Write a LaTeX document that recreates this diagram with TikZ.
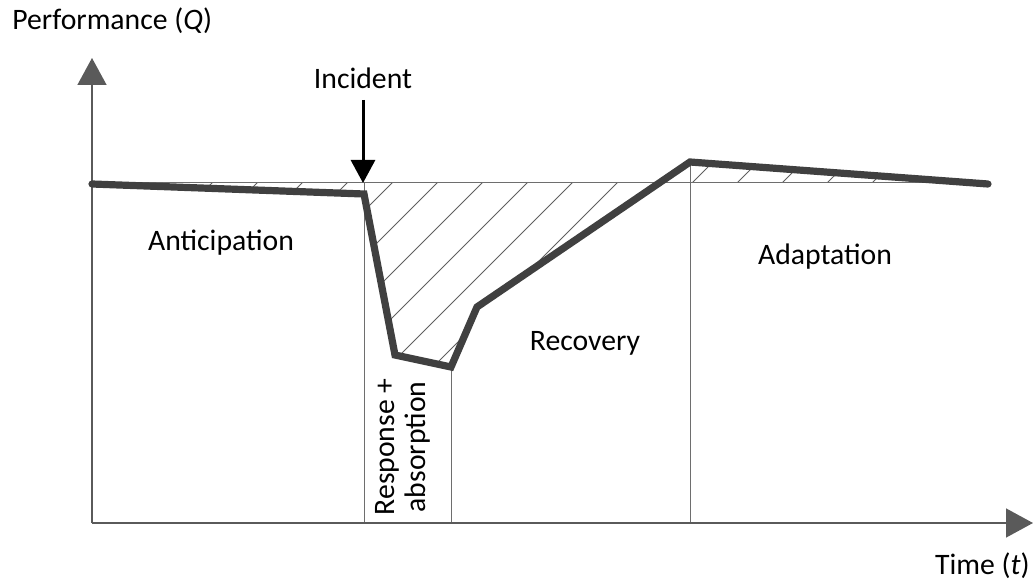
\documentclass[tikz,border=0pt]{standalone}
\usepackage{fontspec}
\setmainfont{Carlito}
\usetikzlibrary{arrows.meta}
\definecolor{curvegray}{RGB}{64,64,64}
\definecolor{axisgray}{RGB}{90,90,90}
\definecolor{thingray}{RGB}{110,110,110}
\definecolor{hatchgray}{RGB}{95,95,95}
\begin{document}
\begin{tikzpicture}[x=0.5pt,y=-0.5pt,
  label/.style={font=\fontsize{14.85}{17}\selectfont, text=black, inner sep=0pt},
  axis/.style={draw=axisgray, line width=0.75pt, -{Triangle[length=13.5pt,width=14.5pt]}},
  thin/.style={draw=thingray, line width=0.5pt},
  hatch/.style={draw=hatchgray, line width=0.45pt},
  perf/.style={draw=curvegray, line width=3.6pt, line join=miter, line cap=round},
  incident/.style={draw=black, line width=1.5pt, -{Triangle[length=11.5pt,width=12pt]}}]
\useasboundingbox (0,0) rectangle (1035,583);

% key points of the performance curve
\coordinate (origin) at (92,523);
\coordinate (ytip) at (92,58);
\coordinate (xtip) at (1033,523);
\coordinate (p0) at (92,184);
\coordinate (p1) at (364,194);
\coordinate (p2) at (395,355);
\coordinate (p3) at (451,367);
\coordinate (p4) at (477,307);
\coordinate (p5) at (690,162);
\coordinate (p6) at (988,184);
\coordinate (cross) at (658,183);
\coordinate (refL) at (92,183);
\coordinate (refR) at (988,183);
\coordinate (incTop) at (363,100);
\coordinate (incBot) at (363,183);

% hatched areas between the curve and the nominal level
\begin{scope}
  \clip (refL) -- (364,183) -- (p1) -- (p0) -- cycle;
  \foreach \c in {260,305,...,575} \draw[hatch] (\c-150,150) -- (\c-420,420);
\end{scope}
\begin{scope}
  \clip (364,183) -- (cross) -- (p4) -- (p3) -- (p2) -- (p1) -- cycle;
  \foreach \c in {530,575,...,890} \draw[hatch] (\c-150,150) -- (\c-420,420);
\end{scope}
\begin{scope}
  \clip (cross) -- (p5) -- (p6) -- (refR) -- cycle;
  \foreach \c in {830,875,...,1190} \draw[hatch] (\c-100,100) -- (\c-420,420);
\end{scope}

% nominal level and phase boundaries
\draw[thin] (refL) -- (refR);
\draw[thin] (p1 |- refL) -- (p1 |- origin);
\draw[thin] (p3) -- (p3 |- origin);
\draw[thin] (p5) -- (p5 |- origin);

% axes
\draw[axis] (origin) -- (ytip);
\draw[axis] (origin) -- (xtip);

% performance curve
\draw[perf] (p0) -- (p1) -- (p2) -- (p3) -- (p4) -- (p5) -- (p6);

% incident marker
\draw[incident] (incTop) -- (incBot);

% labels
\node[label, anchor=west] (ylab) at (12,21) {Performance (\textit{Q})};
\node[label, anchor=east] (xlab) at (1030,566) {Time (\textit{t})};
\node[label] (inc) at (363,78) {Incident};
\node[label] (ant) at (221,243) {Anticipation};
\node[label] (rec) at (585,343) {Recovery};
\node[label] (ada) at (825,257) {Adaptation};
\node[label, rotate=90, align=center, font=\fontsize{14.85}{15.5}\selectfont] (resp) at (403,447) {Response +\\absorption};
\end{tikzpicture}
\end{document}
